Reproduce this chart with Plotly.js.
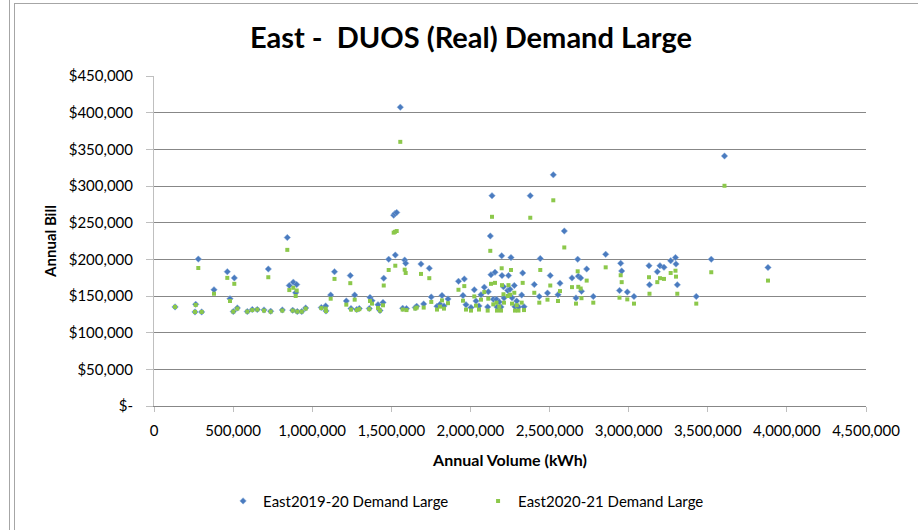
<!DOCTYPE html>
<html>
<head>
<meta charset="utf-8">
<script src="https://cdn.plot.ly/plotly-3.0.1.min.js"></script>
<style>
  html, body { margin: 0; padding: 0; background: #fff; }
  #chart { width: 918px; height: 530px; }
  .frame { position: absolute; pointer-events: none; background: #A6A6A6; }
</style>
</head>
<body>
<div id="chart"></div>
<div class="frame" style="left:9px; top:0; width:1px; height:530px;"></div>
<div class="frame" style="left:14px; top:3px; width:1px; height:527px;"></div>
<div class="frame" style="left:14px; top:3px; width:904px; height:1px;"></div>
<script>
// Annual volume (kWh) for each customer
const volumes = [
  133000, 263500, 280000, 259100, 301500, 379200, 463300, 480300, 507500, 501200,
  526500, 589700, 621300, 652900, 695200, 737500, 722400, 810900, 842500, 855100,
  880400, 901900, 895500, 876600, 905700, 933500, 958700, 1057300, 1085100, 1087000,
  1116700, 1140800, 1215300, 1240600, 1245000, 1281100, 1297500, 1268400, 1365100, 1377800,
  1360700, 1415700, 1428300, 1447300, 1452000, 1483300, 1525000, 1514900, 1523100, 1533900,
  1556600, 1584400, 1590700, 1571800, 1595800, 1651400, 1660300, 1687400, 1704500, 1739900,
  1752500, 1788600, 1820200, 1807500, 1832800, 1858100, 1924400, 1961100, 1952900, 1971800,
  2003400, 2024300, 2035000, 2054000, 2066600, 2087500, 2109000, 2112800, 2125400, 2136200,
  2129800, 2155100, 2144400, 2164600, 2167800, 2182300, 2197500, 2199400, 2208800, 2193000,
  2212000, 2235400, 2240400, 2249900, 2256200, 2262600, 2277100, 2281500, 2292300, 2303600,
  2323900, 2330200, 2338400, 2378200, 2403500, 2435100, 2441400, 2486900, 2504600, 2523600,
  2565900, 2553300, 2593100, 2641800, 2667000, 2677800, 2681600, 2696700, 2701800, 2734700,
  2776400, 2854700, 2949500, 2955900, 2942000, 2991300, 3033600, 3128400, 3131600, 3180900,
  3197900, 3223200, 3265500, 3295900, 3299000, 3307300, 3427300, 3522100, 3605600, 3880500
];
// Annual bill 2019-20
const bill2019 = [
  135100, 138600, 200300, 128300, 128300, 158500, 183200, 146300, 174700, 128700,
  133700, 128700, 131500, 131500, 131000, 129200, 186800, 131000, 229700, 164300,
  168900, 165600, 154400, 130500, 128700, 128700, 133700, 134200, 136500, 129700,
  151300, 183200, 143200, 177800, 132800, 131500, 132800, 151300, 148100, 143600,
  132800, 138200, 130100, 141300, 174300, 200100, 205800, 260200, 262500, 263900,
  407500, 199000, 194500, 133200, 132800, 134200, 135900, 193600, 139200, 187800,
  148600, 135900, 150800, 138600, 136500, 145900, 170000, 173300, 150800, 138200,
  134200, 158500, 143200, 136500, 151700, 162100, 135100, 155800, 231800, 286800,
  179100, 182400, 145400, 145400, 135100, 141900, 204800, 177800, 162500, 135100,
  147300, 157500, 177800, 159100, 202400, 147700, 164300, 135500, 143200, 135100,
  151300, 181400, 135500, 286800, 165600, 149400, 201000, 154000, 177800, 315200,
  167500, 151700, 238600, 174700, 147300, 200100, 177000, 174700, 156400, 186800,
  149400, 206800, 194500, 184100, 157500, 155400, 149400, 191300, 165200, 183200,
  191300, 189100, 198100, 202400, 193600, 165200, 149400, 200100, 340900, 188900
];
// Annual bill 2020-21
const bill2020 = [
  135100, 137800, 188200, 128300, 128300, 153100, 174700, 143200, 166600, 128700,
  132800, 128700, 130800, 131500, 130100, 128700, 175600, 130100, 212900, 158100,
  161200, 157500, 150000, 130100, 128700, 128700, 132800, 133500, 132800, 129400,
  146300, 173300, 138200, 167500, 131500, 130800, 132100, 145000, 143200, 139600,
  132100, 133700, 130100, 137300, 164300, 185500, 191300, 236400, 237500, 238600,
  360200, 185900, 181400, 131500, 130800, 132800, 134200, 180100, 134200, 174300,
  141900, 131500, 144000, 135500, 132800, 140200, 158500, 163500, 143600, 131500,
  130100, 149400, 136900, 131500, 145000, 155400, 130100, 146300, 211600, 258000,
  166600, 167900, 138600, 140900, 130100, 135500, 187800, 164800, 152400, 130100,
  140900, 150000, 164800, 151700, 185500, 139600, 154400, 130100, 137500, 130100,
  140900, 167900, 130800, 256700, 154400, 140900, 185500, 145000, 164300, 280500,
  156700, 143200, 216200, 162100, 139600, 183700, 162500, 160200, 147000, 171000,
  140900, 189100, 178300, 168900, 147700, 145400, 139600, 175600, 153100, 168900,
  174300, 173300, 181400, 184500, 176400, 153100, 139600, 182400, 300300, 171000
];
const seriesNames = ['East2019-20 Demand Large', 'East2020-21 Demand Large'];
const xTickVals = [0, 500000, 1000000, 1500000, 2000000, 2500000, 3000000, 3500000, 4000000, 4500000];
const xTickText = ['0', '500,000', '1,000,000', '1,500,000', '2,000,000', '2,500,000', '3,000,000', '3,500,000', '4,000,000', '4,500,000'];
const yTickVals = [0, 50000, 100000, 150000, 200000, 250000, 300000, 350000, 400000, 450000];
const yTickText = ['$-', '$50,000', '$100,000', '$150,000', '$200,000', '$250,000', '$300,000', '$350,000', '$400,000', '$450,000'];

const FONT = 'Lato, "Open Sans", sans-serif';

const traces = [
  {
    type: 'scatter', mode: 'markers', name: seriesNames[0],
    x: volumes, y: bill2019,
    marker: { symbol: 'diamond', size: 5, color: '#4A7BBF', line: { width: 0.5, color: '#8FB0DC' } }
  },
  {
    type: 'scatter', mode: 'markers', name: seriesNames[1],
    x: volumes, y: bill2020,
    marker: { symbol: 'square', size: 4, color: '#8CC84B', line: { width: 0 } }
  }
];

const layout = {
  width: 918, height: 530,
  paper_bgcolor: '#ffffff', plot_bgcolor: '#ffffff',
  margin: { l: 154, r: 52, t: 76, b: 121 },
  font: { family: FONT, size: 15, color: '#000000' },
  title: {
    text: 'East -  DUOS (Real) Demand Large',
    font: { family: FONT, size: 29, color: '#000000', weight: 'bold' },
    xref: 'container', x: 0.513, xanchor: 'center',
    yref: 'container', y: 1 - 38 / 530, yanchor: 'middle'
  },
  xaxis: {
    range: [0, 4500000], tickmode: 'array', tickvals: xTickVals, ticktext: xTickText,
    showgrid: false, zeroline: false,
    showline: true, linecolor: '#878787', linewidth: 1,
    ticks: 'outside', ticklen: 5, tickcolor: '#BFBFBF', ticklabelstandoff: 6,
    tickfont: { family: FONT, size: 15, color: '#000' },
    title: { text: 'Annual Volume (kWh)', font: { family: FONT, size: 16, weight: 'bold', color: '#000' }, standoff: 16 }
  },
  yaxis: {
    range: [0, 450000], tickmode: 'array', tickvals: yTickVals, ticktext: yTickText,
    showgrid: true, gridcolor: '#878787', gridwidth: 1, zeroline: false,
    showline: true, linecolor: '#BFBFBF', linewidth: 1,
    ticks: 'outside', ticklen: 7, tickcolor: '#BFBFBF', ticklabelstandoff: 10,
    tickfont: { family: FONT, size: 15, color: '#000' },
    title: { text: 'Annual Bill', font: { family: FONT, size: 15, weight: 'bold', color: '#000' }, standoff: 8 }
  },
  showlegend: true,
  legend: {
    orientation: 'h', x: 0.097, xanchor: 'left', y: -0.2883, yanchor: 'middle',
    entrywidth: 210, entrywidthmode: 'pixels',
    font: { family: FONT, size: 15, color: '#000' },
    bgcolor: 'rgba(0,0,0,0)'
  }
};

Plotly.newPlot('chart', traces, layout, { displayModeBar: false, staticPlot: true });
</script>
</body>
</html>
